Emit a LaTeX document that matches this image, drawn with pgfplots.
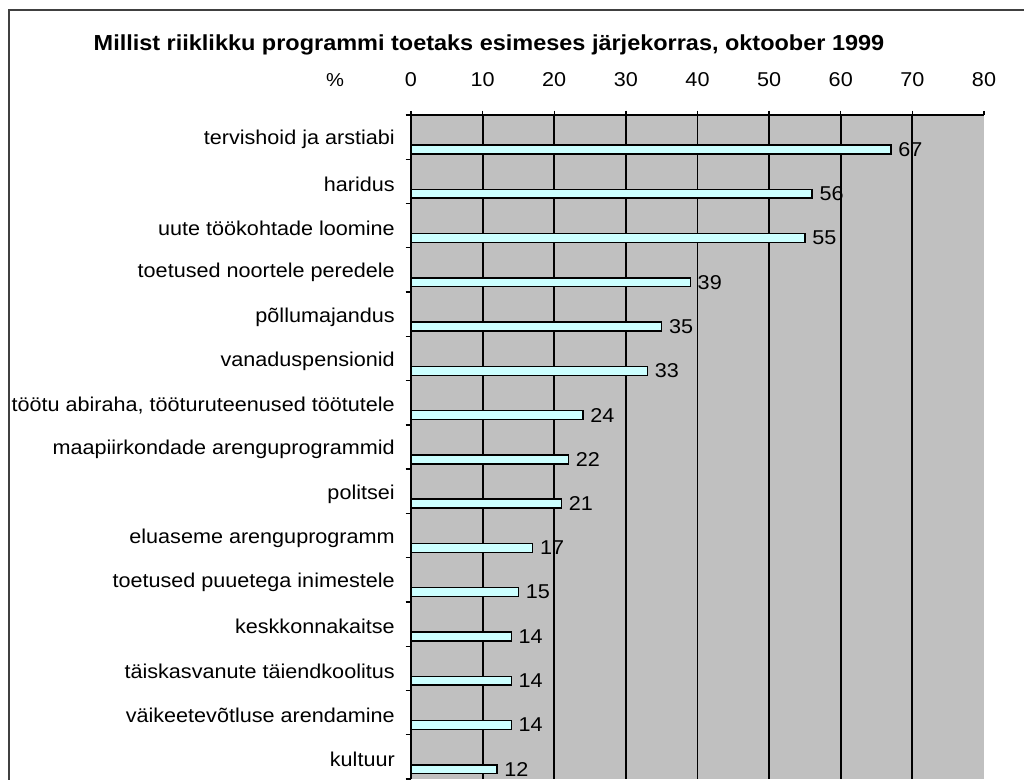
\documentclass[border=0pt]{standalone}
\usepackage{fontspec}
\setmainfont{Liberation Sans}[FakeStretch=1.08]
\usepackage{pgfplots}
\pgfplotsset{compat=1.18}
\definecolor{plotgray}{HTML}{C0C0C0}
\definecolor{barcyan}{HTML}{CCFFFF}
\begin{document}
\begin{tikzpicture}
\useasboundingbox (0,0) rectangle (768pt,585pt);
\begin{axis}[
  at={(308.25pt,0.75pt)}, anchor=south west,
  scale only axis, width=429.75pt, height=498pt,
  xmin=0, xmax=80, ymin=-0.5, ymax=14.5,
  axis x line=top, axis y line=left,
  axis line style={-, line width=1.1pt, black},
  axis background/.style={fill=plotgray},
  /pgf/number format/assume math mode=true,
  font=\fontsize{15}{18}\selectfont,
  xtick={0,10,...,80},
  tick align=outside,
  major tick length=3pt,
  minor tick length=4pt,
  xtick style={black, line width=1.1pt},
  x tick label style={anchor=base, inner sep=0pt, yshift=18pt},
  extra x ticks={10,20,...,70},
  extra x tick labels={},
  extra x tick style={grid=major, major grid style={black, line width=1.4pt}},
  ytick={0,...,14},
  yticklabels={kultuur, väikeetevõtluse arendamine, täiskasvanute täiendkoolitus, keskkonnakaitse, toetused puuetega inimestele, eluaseme arenguprogramm, politsei, maapiirkondade arenguprogrammid, {töötu abiraha, tööturuteenused töötutele}, vanaduspensionid, põllumajandus, toetused noortele peredele, uute töökohtade loomine, haridus, tervishoid ja arstiabi},
  major y tick style={draw=none},
  minor ytick={-0.5,0.5,...,14.5},
  minor y tick style={black, line width=1pt},
  y tick label style={anchor=east, inner sep=0pt, xshift=-9pt, yshift=-2pt},
  xbar, bar width=0.2, bar shift=-0.28,
  nodes near coords,
  every node near coord/.append style={font=\fontsize{15}{18}\selectfont, anchor=west, inner sep=0pt, xshift=5pt},
  clip=false,
]
\addplot[draw=black, line width=1.1pt, fill=barcyan] coordinates {
  (12,0) (14,1) (14,2) (14,3) (15,4) (17,5) (21,6) (22,7) (24,8) (33,9) (35,10) (39,11) (55,12) (56,13) (67,14)
};
\end{axis}
\draw[line width=1.2pt, black!75] (6.75pt,0pt) -- (6.75pt,577.5pt) -- (768pt,577.5pt);
\node[font=\fontsize{16.3}{19}\selectfont\bfseries, inner sep=0pt] at (366.75pt,551.25pt) {Millist riiklikku programmi toetaks esimeses järjekorras, oktoober 1999};
\node[font=\fontsize{14}{17}\selectfont, anchor=base, inner sep=0pt] at (251.25pt,519.75pt) {\%};
\end{tikzpicture}
\end{document}
